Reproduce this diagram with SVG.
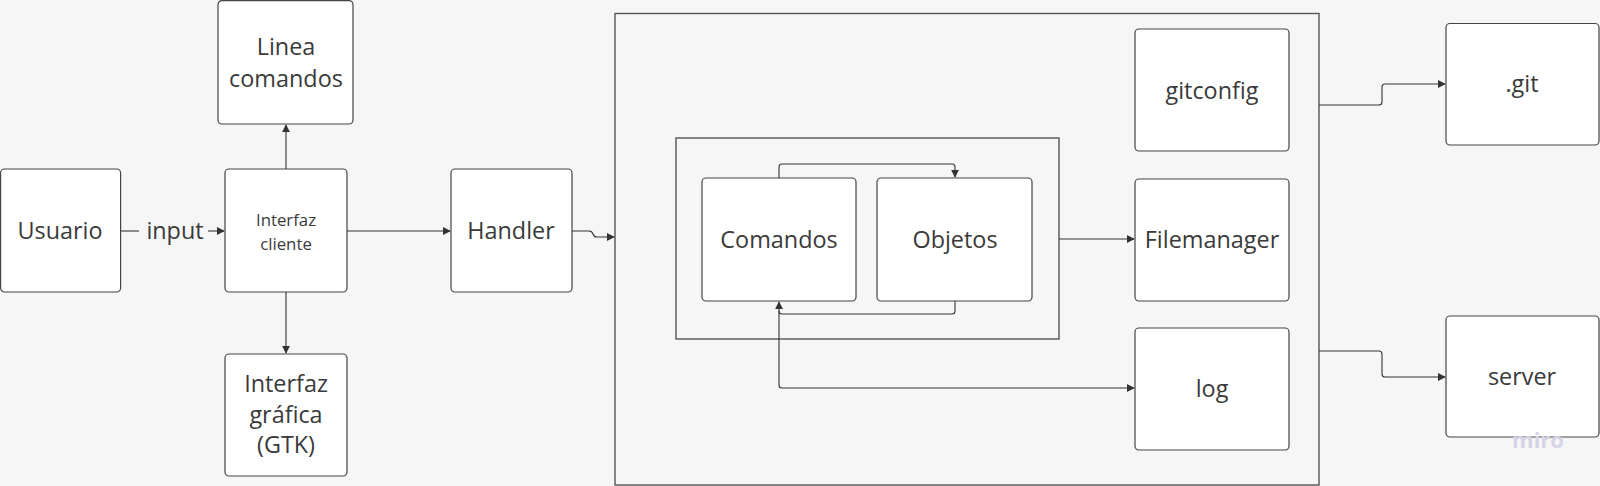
<svg xmlns="http://www.w3.org/2000/svg" width="1600" height="486" viewBox="0 0 1600 486">
<defs>
<marker id="arr" viewBox="0 0 10 10" refX="9" refY="5" markerWidth="8" markerHeight="8" markerUnits="userSpaceOnUse" orient="auto-start-reverse">
<path d="M0,0 L10,5 L0,10 z" fill="#333"/>
</marker>
<style>
.box{fill:#fff;stroke:#444;stroke-width:1.2}
.cont{fill:#f6f6f6;stroke:#555;stroke-width:1.4}
.t{font-family:"Open Sans","Noto Sans","DejaVu Sans",sans-serif;fill:#3a3a3a;text-anchor:middle;font-size:23.4px}
.s{font-size:16.8px}
.c{fill:none;stroke:#333;stroke-width:1.1}
</style>
</defs>
<rect width="1600" height="486" fill="#f6f6f6"/>
<g id="core">
<rect class="cont" x="615" y="13.5" width="704" height="471.5"/>
</g>
<g id="modulos">
<rect class="cont" x="676" y="138" width="383" height="201"/>
</g>
<g id="usuario"><rect class="box" x="0.6" y="169" width="120" height="123" rx="4"/><text class="t" x="60" y="239">Usuario</text></g>
<g id="interfaz-cliente"><rect class="box" x="225" y="169" width="122" height="123" rx="4"/><text class="t s" x="286" y="226">Interfaz</text><text class="t s" x="286" y="250">cliente</text></g>
<g id="linea-comandos"><rect class="box" x="218" y="0.6" width="135" height="123.4" rx="4"/><text class="t" x="286" y="55">Linea</text><text class="t" x="286" y="87">comandos</text></g>
<g id="interfaz-grafica"><rect class="box" x="225" y="354" width="122" height="122" rx="4"/><text class="t" x="286" y="392">Interfaz</text><text class="t" x="286" y="423">gráfica</text><text class="t" x="286" y="453">(GTK)</text></g>
<g id="handler"><rect class="box" x="451" y="169" width="121" height="123" rx="4"/><text class="t" x="511" y="239">Handler</text></g>
<g id="comandos"><rect class="box" x="702" y="178" width="154" height="123" rx="4"/><text class="t" x="779" y="248">Comandos</text></g>
<g id="objetos"><rect class="box" x="877" y="178" width="155" height="123" rx="4"/><text class="t" x="955" y="248">Objetos</text></g>
<g id="gitconfig"><rect class="box" x="1135" y="29" width="154" height="122" rx="4"/><text class="t" x="1212" y="99">gitconfig</text></g>
<g id="filemanager"><rect class="box" x="1135" y="179" width="154" height="122" rx="4"/><text class="t" x="1212" y="248">Filemanager</text></g>
<g id="log"><rect class="box" x="1135" y="328" width="154" height="122" rx="4"/><text class="t" x="1212" y="397">log</text></g>
<g id="git"><rect class="box" x="1446" y="23.5" width="153" height="121.5" rx="4"/><text class="t" x="1522" y="92">.git</text></g>
<g id="server"><rect class="box" x="1446" y="316" width="153" height="121" rx="4"/><text class="t" x="1522" y="385">server</text></g>
<g id="connectors">
<path class="c" d="M121,231 H139"/>
<text class="t" x="175" y="239">input</text>
<path class="c" d="M208,231 H224" marker-end="url(#arr)"/>
<path class="c" d="M286,169 V125" marker-end="url(#arr)"/>
<path class="c" d="M286,292 V353" marker-end="url(#arr)"/>
<path class="c" d="M347,231 H450" marker-end="url(#arr)"/>
<path class="c" d="M572,231 H589 Q592,231 593,234 Q594,237 597,237 H614" marker-end="url(#arr)"/>
<path class="c" d="M779,178 V167 Q779,164 782,164 H952 Q955,164 955,167 V177" marker-end="url(#arr)"/>
<path class="c" d="M955,301 V311 Q955,314 952,314 H782 Q779,314 779,311"/>
<path class="c" d="M1134,388 H782 Q779,388 779,385 V302" marker-start="url(#arr)" marker-end="url(#arr)"/>
<path class="c" d="M1059,239 H1134" marker-end="url(#arr)"/>
<path class="c" d="M1319,105 H1379 Q1382,105 1382,102 V87 Q1382,84 1385,84 H1445" marker-end="url(#arr)"/>
<path class="c" d="M1319,351 H1379 Q1382,351 1382,354 V374 Q1382,377 1385,377 H1445" marker-end="url(#arr)"/>
</g>
<text x="1538" y="448" font-family="'Open Sans','DejaVu Sans',sans-serif" font-size="22" font-weight="bold" fill="#d4d4e6" text-anchor="middle">miro</text>
</svg>
